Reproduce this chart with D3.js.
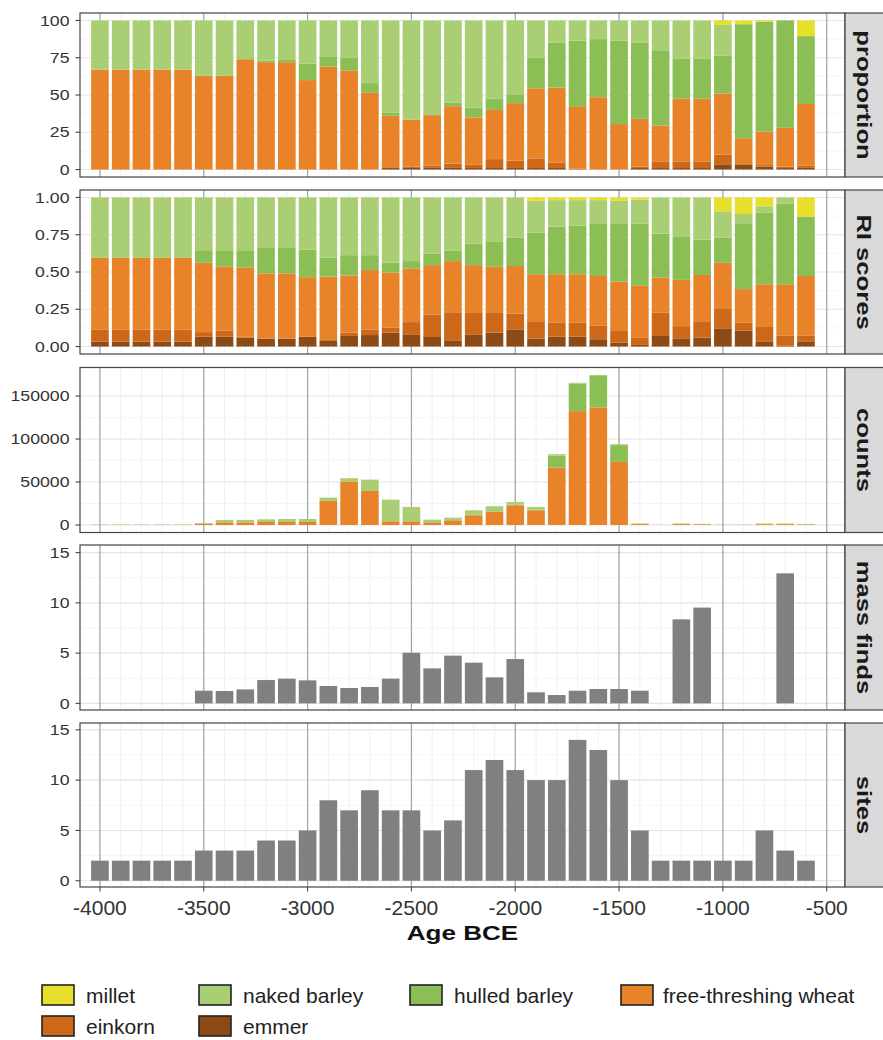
<!DOCTYPE html>
<html><head><meta charset="utf-8">
<script src="https://cdn.jsdelivr.net/npm/d3@7"></script>
<style>html,body{margin:0;padding:0;background:#fff;} svg{display:block;font-family:"Liberation Sans",Arial,Helvetica,sans-serif;}</style>
</head><body><svg id="chart" width="883" height="1040"></svg>
<script>
// ---- categories ----
const years = [-4000,-3900,-3800,-3700,-3600,-3500,-3400,-3300,-3200,-3100,-3000,-2900,-2800,-2700,-2600,-2500,-2400,-2300,-2200,-2100,-2000,-1900,-1800,-1700,-1600,-1500,-1400,-1300,-1200,-1100,-1000,-900,-800,-700,-600];
const xTicks = [-4000,-3500,-3000,-2500,-2000,-1500,-1000,-500];
const speciesKeys = ["emmer","einkorn","ftw","hulled","naked","millet"];
const speciesNames = {millet:"millet",naked:"naked barley",hulled:"hulled barley",ftw:"free-threshing wheat",einkorn:"einkorn",emmer:"emmer"};
const speciesColors = {millet:"#e8df2c",naked:"#a9ce74",hulled:"#8bbf55",ftw:"#e9832a",einkorn:"#cd6819",emmer:"#8b4a16"};

// ---- proportion (%) ----
const propEmmer   = [0,0,0,0,0, 0,0,0,0,0, 0,0,0,0,1, 1.5,1.5,1.5,1,1, 1,1,1,0,0, 0,1,1,1,1, 3.5,3.5,2,1,1.5];
const propEinkorn = [0,0,0,0,0, 0,0,0,0,0, 0,0,0,0,0, 0.5,1,2.5,2.5,6, 5,6.5,3.5,0.5,0, 0,1,4.5,4.5,4.5, 6.5,0,1,1,1];
const propFTW     = [67,67,67,67,67, 63,63,74,72,72, 60,69,66.5,51.5,35, 31.5,34,38.5,31.5,33, 38.5,47,50.5,42,48.5, 30.5,32,24,42,42, 41,17.5,22.5,26,41.5];
const propHulled  = [0,0,0,0,0, 0,0,0,1,1.5, 11,7,8.5,6.5,2, 0,0,2.5,6.5,7.5, 5.5,20.5,30,44,39, 56,51,50.5,27,27, 25.5,76.5,73.5,72,45.5];
const propNaked   = [33,33,33,33,33, 37,37,26,27,26.5, 29,24,25,42,62, 66.5,63.5,55,58.5,52.5, 50,25,15,13.5,12.5, 13.5,15,20,25.5,25.5, 20.5,0,0,0,0];
const propMillet  = [0,0,0,0,0, 0,0,0,0,0, 0,0,0,0,0, 0,0,0,0,0, 0,0,0,0,0, 0,0,0,0,0, 3,2.5,1,0,10.5];

// ---- RI scores ----
const riEmmer   = [.033,.033,.033,.033,.033, .066,.066,.060,.053,.053, .066,.042,.071,.077,.093, .082,.064,.042,.082,.093, .115,.053,.066,.066,.049, .027,.011,.071,.055,.060, .122,.108,.031,.005,.031];
const riEinkorn = [.082,.082,.082,.082,.082, .031,.042,.005,0,0, 0,0,.022,.038,.033, .082,.151,.188,.148,.137, .106,.117,.093,.093,.093, .077,.047,.155,.082,.110, .130,.051,.100,.070,.044];
const riFTW     = [.480,.480,.480,.480,.480, .465,.427,.466,.438,.438, .399,.427,.383,.398,.370, .360,.331,.343,.316,.305, .319,.315,.326,.326,.331, .332,.349,.236,.310,.310, .310,.226,.287,.343,.398];
const riHulled  = [0,0,0,0,0, .084,.111,.115,.170,.170, .185,.126,.137,.100,.066, .049,.078,.069,.144,.171, .190,.278,.320,.327,.354, .391,.416,.295,.288,.237, .168,.442,.482,.542,.399];
const riNaked   = [.405,.405,.405,.405,.405, .354,.354,.354,.339,.339, .350,.405,.387,.387,.438, .427,.376,.358,.310,.294, .270,.215,.177,.170,.155, .151,.162,.243,.265,.283, .177,.062,.040,.040,0];
const riMillet  = [0,0,0,0,0, 0,0,0,0,0, 0,0,0,0,0, 0,0,0,0,0, 0,.022,.018,.018,.018, .022,.015,0,0,0, .093,.111,.060,0,.128];

// ---- counts ----
const cntEmmer   = [0,0,0,0,0, 0,0,0,0,0, 0,0,0,0,0, 0,0,0,0,0, 0,0,0,0,0, 0,0,0,0,0, 0,0,0,0,0];
const cntEinkorn = [0,0,0,0,0, 0,0,0,0,0, 0,0,0,0,0, 0,0,0,0,0, 0,0,0,0,0, 0,0,0,0,0, 0,0,0,0,0];
const cntFTW     = [300,300,300,300,300, 1700,3100,3100,3500,3500, 3500,28000,50100,39600,4300, 4300,3100,5400,11300,15200, 22900,17100,66800,132500,136800, 73400,1000,100,1000,700, 200,150,900,900,600];
const cntHulled  = [0,0,0,0,0, 0,0,0,0,0, 0,0,0,0,0, 0,0,500,500,700, 800,1000,14000,32000,36500, 19500,600,100,600,400, 150,200,600,600,400];
const cntNaked   = [200,200,200,200,200, 600,2700,2700,3100,3500, 3500,3900,4300,13200,25200, 16700,3100,2600,5300,5900, 3100,2900,1600,1000,1200, 1100,0,0,0,0, 0,0,0,0,0];
const cntMillet  = [0,0,0,0,0, 0,0,0,0,0, 0,0,0,0,0, 0,0,0,0,0, 0,0,0,0,0, 0,400,0,400,300, 0,0,400,400,300];

// ---- mass finds & sites ----
const massFinds = [null,null,null,null,null, 1.26,1.23,1.39,2.32,2.46, 2.29,1.73,1.53,1.63,2.46, 5.04,3.48,4.75,4.05,2.59, 4.41,1.1,0.83,1.26,1.43, 1.43,1.26,null,8.36,9.53, null,null,null,12.94,null];
const sites = [2,2,2,2,2, 3,3,3,4,4, 5,8,7,9,7, 7,5,6,11,12, 11,10,10,14,13, 10,5,2,2,2, 2,2,5,3,2];

const propTicks = [0,25,50,75,100];
const riTicks = [0,0.25,0.5,0.75,1];
const countTicks = [0,50000,100000,150000];
const smallTicks = [0,5,10,15];

// ---- build rows ----
function rows(emmer,einkorn,ftw,hulled,naked,millet){
  return years.map((yr,i)=>({year:yr,emmer:emmer[i],einkorn:einkorn[i],ftw:ftw[i],hulled:hulled[i],naked:naked[i],millet:millet[i]}));
}
const propRows = rows(propEmmer,propEinkorn,propFTW,propHulled,propNaked,propMillet);
const riRows = rows(riEmmer,riEinkorn,riFTW,riHulled,riNaked,riMillet);
const cntRows = rows(cntEmmer,cntEinkorn,cntFTW,cntHulled,cntNaked,cntMillet);

const svg = d3.select("#chart");
const W = 883;
const L = 80, R = 845;
const x = d3.scaleLinear().domain([-4096,-412]).range([L,R]);
const halfW = 42.5;
const fontFam = '"Liberation Sans",Arial,Helvetica,sans-serif';

const panels = [
  {label:"proportion", top:13, h:164, domain:[-5,105], ticks:propTicks, fmt:d=>String(d), kind:"stack", rows:propRows},
  {label:"RI scores", top:190, h:164, domain:[-0.05,1.05], ticks:riTicks, fmt:d3.format(".2f"), kind:"stack", rows:riRows},
  {label:"counts", top:367.5, h:165, domain:[-8725,183225], ticks:countTicks, fmt:d=>String(d), kind:"stack", rows:cntRows},
  {label:"mass finds", top:545, h:165, domain:[-0.66,15.76], ticks:smallTicks, fmt:d=>String(d), kind:"bar", vals:massFinds},
  {label:"sites", top:723, h:164, domain:[-0.62,15.68], ticks:smallTicks, fmt:d=>String(d), kind:"bar", vals:sites}
];

function addText(g, tx, ty, str, o){
  const t = g.append("text")
    .attr("transform", `translate(${tx},${ty}) rotate(${o.rot||0}) scale(${o.sx||1},1)`)
    .attr("text-anchor", o.anchor||"start")
    .attr("font-size", o.size)
    .attr("font-weight", o.weight||"normal")
    .attr("fill", o.fill||"#333")
    .attr("font-family", fontFam)
    .text(str);
  if (o.dy) t.attr("dy", o.dy);
  return t;
}

panels.forEach(p=>{
  const g = svg.append("g");
  const y = d3.scaleLinear().domain(p.domain).range([p.top+p.h, p.top]);
  g.append("rect").attr("x",L).attr("y",p.top).attr("width",R-L).attr("height",p.h).attr("fill","#fff");
  const minors = p.ticks.slice(0,-1).map((t,i)=>(t+p.ticks[i+1])/2);
  g.selectAll(".hmin").data(minors).enter().append("line")
    .attr("x1",L).attr("x2",R).attr("y1",d=>y(d)).attr("y2",d=>y(d))
    .attr("stroke","#f1f1f1").attr("stroke-width",0.7);
  g.selectAll(".vmin").data(d3.range(-4000,-499,100)).enter().append("line")
    .attr("y1",p.top).attr("y2",p.top+p.h).attr("x1",d=>x(d)).attr("x2",d=>x(d))
    .attr("stroke","#ececec").attr("stroke-width",0.8);
  g.selectAll(".hmaj").data(p.ticks).enter().append("line")
    .attr("x1",L).attr("x2",R).attr("y1",d=>y(d)).attr("y2",d=>y(d))
    .attr("stroke","#e4e4e4").attr("stroke-width",1.1);
  g.selectAll(".vmaj").data(xTicks).enter().append("line")
    .attr("y1",p.top).attr("y2",p.top+p.h).attr("x1",d=>x(d)).attr("x2",d=>x(d))
    .attr("stroke","#a3a3a3").attr("stroke-width",1.2);

  if (p.kind==="stack"){
    const series = d3.stack().keys(speciesKeys)(p.rows);
    series.forEach(s=>{
      g.selectAll(null).data(s.filter(d=>d[1]-d[0]>0)).enter().append("rect")
        .attr("x",d=>x(d.data.year-halfW)).attr("width",d=>x(d.data.year+halfW)-x(d.data.year-halfW))
        .attr("y",d=>y(d[1])).attr("height",d=>y(d[0])-y(d[1]))
        .attr("fill",speciesColors[s.key]);
    });
  } else {
    const dat = years.map((yr,i)=>({year:yr,v:p.vals[i]})).filter(d=>d.v!=null);
    g.selectAll(null).data(dat).enter().append("rect")
      .attr("x",d=>x(d.year-halfW)).attr("width",d=>x(d.year+halfW)-x(d.year-halfW))
      .attr("y",d=>y(d.v)).attr("height",d=>y(0)-y(d.v))
      .attr("fill","#808080");
  }

  g.append("rect").attr("x",L).attr("y",p.top).attr("width",R-L).attr("height",p.h)
    .attr("fill","none").attr("stroke","#444").attr("stroke-width",1.2);
  g.append("rect").attr("x",R).attr("y",p.top).attr("width",W-R+2).attr("height",p.h)
    .attr("fill","#d9d9d9").attr("stroke","#444").attr("stroke-width",1.2);
  addText(g, (R+W)/2, p.top+p.h/2, p.label, {size:20, weight:"bold", anchor:"middle", rot:90, sx:1.28, fill:"#1a1a1a", dy:"0.35em"});

  p.ticks.forEach(t=>{
    g.append("line").attr("x1",75.5).attr("x2",L).attr("y1",y(t)).attr("y2",y(t)).attr("stroke","#444").attr("stroke-width",1.1);
    addText(g, 69.5, y(t)+5.2, p.fmt(t), {size:14.5, anchor:"end", sx:1.22, fill:"#333"});
  });
});

const bottom = panels[4].top + panels[4].h;
xTicks.forEach(t=>{
  svg.append("line").attr("x1",x(t)).attr("x2",x(t)).attr("y1",bottom).attr("y2",bottom+4.5).attr("stroke","#444").attr("stroke-width",1.1);
  addText(svg, x(t), 915, String(t), {size:21, anchor:"middle", fill:"#333"});
});
addText(svg, (L+R)/2, 940, "Age BCE", {size:21, weight:"bold", anchor:"middle", sx:1.24, fill:"#111"});

// legend
const legPos = [
  {k:"millet", bx:42, tx:86, row:0},
  {k:"naked", bx:199, tx:243, row:0},
  {k:"hulled", bx:410, tx:454, row:0},
  {k:"ftw", bx:621, tx:663, row:0},
  {k:"einkorn", bx:42, tx:86, row:1},
  {k:"emmer", bx:199, tx:243, row:1}
];
const rowTop = [985, 1016];
legPos.forEach(l=>{
  svg.append("rect").attr("x",l.bx).attr("y",rowTop[l.row]).attr("width",32).attr("height",20)
    .attr("fill",speciesColors[l.k]).attr("stroke","#222").attr("stroke-width",1.6);
  addText(svg, l.tx, rowTop[l.row]+17.5, speciesNames[l.k], {size:21, fill:"#222"});
});
</script></body></html>
